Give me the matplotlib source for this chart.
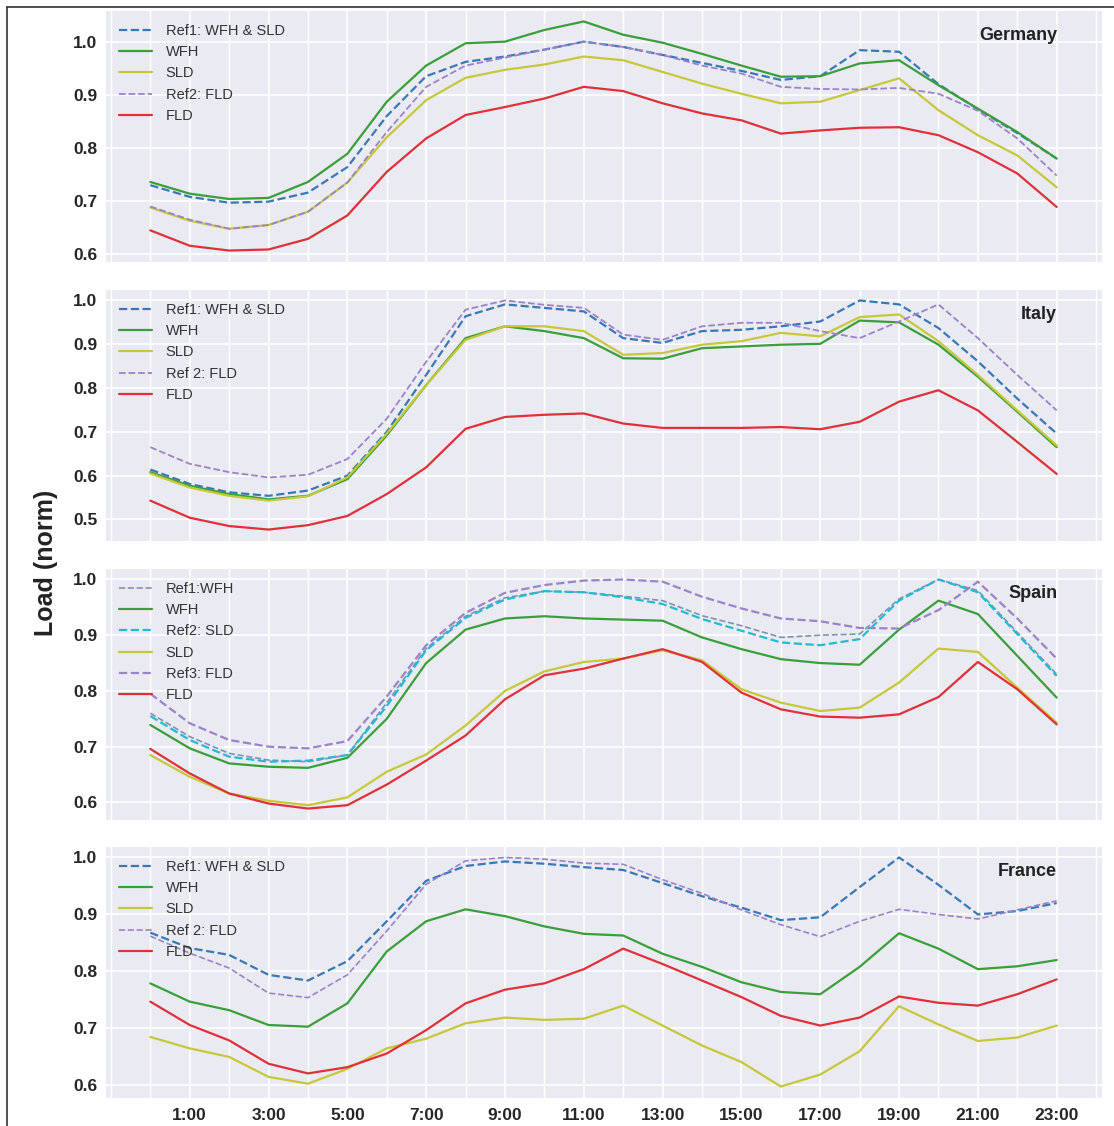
import matplotlib
matplotlib.use("Agg")
import matplotlib.pyplot as plt
import seaborn as sns
import numpy as np
from matplotlib.ticker import MultipleLocator, FixedLocator

sns.set_style("darkgrid")
plt.rcParams['font.family'] = ['Liberation Sans', 'DejaVu Sans']

hours = list(range(24))
tick_hours = list(range(1, 24, 2))
tick_labels = ["%d:00" % h for h in tick_hours]

# ---- Germany ----
de_ref1 = [0.730, 0.708, 0.697, 0.699, 0.716, 0.764, 0.860, 0.935, 0.962, 0.972, 0.985, 1.000,
           0.990, 0.975, 0.960, 0.945, 0.928, 0.935, 0.984, 0.981, 0.920, 0.873, 0.828, 0.780]
de_wfh = [0.736, 0.714, 0.704, 0.706, 0.736, 0.789, 0.887, 0.955, 0.997, 1.000, 1.022, 1.038,
          1.013, 0.998, 0.977, 0.955, 0.934, 0.935, 0.959, 0.965, 0.918, 0.874, 0.830, 0.780]
de_sld = [0.688, 0.663, 0.648, 0.655, 0.680, 0.735, 0.820, 0.890, 0.932, 0.947, 0.957, 0.972,
          0.965, 0.943, 0.921, 0.902, 0.884, 0.887, 0.909, 0.931, 0.871, 0.824, 0.786, 0.726]
de_ref2 = [0.690, 0.665, 0.648, 0.655, 0.680, 0.735, 0.830, 0.915, 0.955, 0.970, 0.985, 1.000,
           0.990, 0.975, 0.955, 0.940, 0.915, 0.911, 0.910, 0.913, 0.902, 0.870, 0.818, 0.748]
de_fld = [0.645, 0.616, 0.607, 0.609, 0.629, 0.673, 0.755, 0.818, 0.862, 0.877, 0.893, 0.915,
          0.907, 0.884, 0.865, 0.852, 0.827, 0.833, 0.838, 0.839, 0.824, 0.792, 0.752, 0.689]

# ---- Italy ----
it_ref1 = [0.614, 0.581, 0.562, 0.554, 0.566, 0.600, 0.700, 0.830, 0.964, 0.991, 0.983, 0.975,
           0.914, 0.903, 0.930, 0.933, 0.941, 0.952, 1.000, 0.991, 0.937, 0.861, 0.776, 0.696]
it_wfh = [0.608, 0.577, 0.558, 0.546, 0.554, 0.592, 0.692, 0.807, 0.914, 0.941, 0.930, 0.914,
          0.868, 0.867, 0.891, 0.895, 0.899, 0.901, 0.954, 0.950, 0.899, 0.826, 0.746, 0.665]
it_sld = [0.605, 0.573, 0.554, 0.543, 0.553, 0.596, 0.696, 0.807, 0.910, 0.941, 0.941, 0.930,
          0.876, 0.880, 0.899, 0.907, 0.926, 0.918, 0.962, 0.968, 0.907, 0.830, 0.749, 0.669]
it_ref2 = [0.665, 0.627, 0.608, 0.596, 0.602, 0.638, 0.730, 0.860, 0.979, 1.000, 0.990, 0.983,
           0.922, 0.910, 0.941, 0.949, 0.949, 0.930, 0.914, 0.952, 0.991, 0.914, 0.830, 0.749]
it_fld = [0.543, 0.504, 0.485, 0.477, 0.487, 0.508, 0.558, 0.619, 0.707, 0.734, 0.739, 0.742,
          0.719, 0.709, 0.709, 0.709, 0.711, 0.706, 0.723, 0.769, 0.795, 0.749, 0.677, 0.604]

# ---- Spain ----
es_ref1 = [0.760, 0.718, 0.688, 0.676, 0.673, 0.685, 0.779, 0.876, 0.934, 0.967, 0.979, 0.977,
           0.970, 0.962, 0.935, 0.917, 0.896, 0.900, 0.902, 0.965, 1.000, 0.980, 0.905, 0.830]
es_wfh = [0.739, 0.697, 0.670, 0.664, 0.662, 0.680, 0.750, 0.850, 0.910, 0.930, 0.934, 0.930,
          0.928, 0.926, 0.896, 0.875, 0.857, 0.850, 0.847, 0.910, 0.962, 0.938, 0.863, 0.788]
es_ref2 = [0.755, 0.712, 0.682, 0.673, 0.675, 0.685, 0.773, 0.873, 0.931, 0.964, 0.979, 0.977,
           0.968, 0.956, 0.929, 0.908, 0.887, 0.882, 0.893, 0.962, 1.000, 0.977, 0.902, 0.827]
es_sld = [0.685, 0.646, 0.616, 0.603, 0.595, 0.609, 0.655, 0.686, 0.738, 0.800, 0.835, 0.852,
          0.858, 0.873, 0.855, 0.803, 0.779, 0.764, 0.770, 0.815, 0.876, 0.870, 0.806, 0.743]
es_ref3 = [0.795, 0.742, 0.712, 0.700, 0.697, 0.710, 0.790, 0.882, 0.940, 0.976, 0.990, 0.998,
           1.000, 0.996, 0.969, 0.948, 0.930, 0.925, 0.913, 0.912, 0.945, 0.996, 0.930, 0.858]
es_fld = [0.696, 0.652, 0.616, 0.598, 0.589, 0.595, 0.632, 0.675, 0.720, 0.785, 0.828, 0.840,
          0.858, 0.875, 0.852, 0.797, 0.767, 0.754, 0.752, 0.758, 0.789, 0.852, 0.803, 0.740]

# ---- France ----
fr_ref1 = [0.868, 0.841, 0.829, 0.794, 0.784, 0.818, 0.888, 0.959, 0.985, 0.993, 0.989, 0.983,
           0.978, 0.955, 0.932, 0.912, 0.890, 0.895, 0.948, 1.000, 0.952, 0.900, 0.906, 0.920]
fr_wfh = [0.779, 0.747, 0.732, 0.706, 0.703, 0.744, 0.835, 0.888, 0.909, 0.897, 0.879, 0.866,
          0.863, 0.831, 0.808, 0.781, 0.764, 0.760, 0.808, 0.867, 0.840, 0.804, 0.809, 0.820]
fr_sld = [0.685, 0.665, 0.650, 0.615, 0.603, 0.629, 0.665, 0.682, 0.709, 0.719, 0.715, 0.717,
          0.740, 0.705, 0.670, 0.641, 0.598, 0.619, 0.660, 0.739, 0.707, 0.678, 0.684, 0.705]
fr_ref2 = [0.862, 0.832, 0.806, 0.762, 0.754, 0.794, 0.871, 0.953, 0.994, 1.000, 0.997, 0.990,
           0.988, 0.961, 0.937, 0.908, 0.882, 0.861, 0.888, 0.909, 0.900, 0.892, 0.908, 0.924]
fr_fld = [0.747, 0.706, 0.679, 0.638, 0.621, 0.632, 0.656, 0.697, 0.744, 0.768, 0.779, 0.804,
          0.840, 0.813, 0.784, 0.755, 0.722, 0.705, 0.719, 0.756, 0.745, 0.740, 0.760, 0.786]

c_ref1 = "#3a78b5"
c_wfh = "#3a9e3a"
c_sld = "#c6c83a"
c_ref2 = "#9b82c9"
c_fld = "#e0303a"
c_cyan = "#25b9d2"
c_gray = "#7d93b3"

panels = [
    ("Germany", [
        ("Ref1: WFH & SLD", de_ref1, c_ref1, "--", 1.6),
        ("WFH", de_wfh, c_wfh, "-", 1.6),
        ("SLD", de_sld, c_sld, "-", 1.6),
        ("Ref2: FLD", de_ref2, c_ref2, "--", 1.3),
        ("FLD", de_fld, c_fld, "-", 1.6),
    ]),
    ("Italy", [
        ("Ref1: WFH & SLD", it_ref1, c_ref1, "--", 1.6),
        ("WFH", it_wfh, c_wfh, "-", 1.6),
        ("SLD", it_sld, c_sld, "-", 1.6),
        ("Ref 2: FLD", it_ref2, c_ref2, "--", 1.3),
        ("FLD", it_fld, c_fld, "-", 1.6),
    ]),
    ("Spain", [
        ("Ref1:WFH", es_ref1, c_gray, "--", 1.2),
        ("WFH", es_wfh, c_wfh, "-", 1.6),
        ("Ref2: SLD", es_ref2, c_cyan, "--", 1.6),
        ("SLD", es_sld, c_sld, "-", 1.6),
        ("Ref3: FLD", es_ref3, c_ref2, "--", 1.6),
        ("FLD", es_fld, c_fld, "-", 1.6),
    ]),
    ("France", [
        ("Ref1: WFH & SLD", fr_ref1, c_ref1, "--", 1.6),
        ("WFH", fr_wfh, c_wfh, "-", 1.6),
        ("SLD", fr_sld, c_sld, "-", 1.6),
        ("Ref 2: FLD", fr_ref2, c_ref2, "--", 1.2),
        ("FLD", fr_fld, c_fld, "-", 1.6),
    ]),
]

fig = plt.figure(figsize=(11.14, 11.26), dpi=100)
left, right = 105 / 1114, 1102 / 1114
tops = [10, 289, 568, 846]
h_px = 252
axes = []
for i, (name, series) in enumerate(panels):
    top = tops[i]
    ax = fig.add_axes([left, 1 - (top + h_px) / 1126, right - left, h_px / 1126])
    for label, vals, col, ls, lw in series:
        ax.plot(hours, vals, color=col, linestyle=ls, linewidth=lw, label=label)
    ax.set_xlim(-1.15, 24.15)
    ax.yaxis.set_major_locator(MultipleLocator(0.1))
    ax.xaxis.set_major_locator(FixedLocator(tick_hours))
    ax.xaxis.set_minor_locator(MultipleLocator(1))
    ax.grid(which="minor", axis="x", color="white", linewidth=1.0)
    ax.grid(which="major", color="white", linewidth=1.2)
    ax.tick_params(axis="y", labelsize=12.5, pad=2)
    for t in ax.get_yticklabels():
        t.set_fontweight("bold")
    if i == 3:
        ax.set_xticklabels(tick_labels, fontsize=12.5, fontweight="bold")
        ax.tick_params(axis="x", pad=4)
    else:
        ax.set_xticklabels([])
    ax.text(0.955, 0.9, name, transform=ax.transAxes, ha="right", va="center",
            fontsize=13, fontweight="bold", color="#222222")
    leg = ax.legend(loc="upper left", frameon=False, fontsize=10.5,
                    handlelength=2.3, handletextpad=0.9, labelspacing=0.5,
                    borderaxespad=0.55)
    for t in leg.get_texts():
        t.set_color("#333333")
    axes.append(ax)

fig.text(0.041, 0.5, "Load (norm)", rotation=90, ha="center", va="center",
         fontsize=18, fontweight="bold", color="#222222")

# thin frame around the figure
fig.add_artist(plt.Line2D([7 / 1114, 7 / 1114], [0, 1 - 7 / 1126], transform=fig.transFigure,
                          color="#333333", linewidth=1.2))
fig.add_artist(plt.Line2D([7 / 1114, 1], [1 - 7 / 1126, 1 - 7 / 1126], transform=fig.transFigure,
                          color="#333333", linewidth=1.2))

plt.savefig("out.png", dpi=100)
